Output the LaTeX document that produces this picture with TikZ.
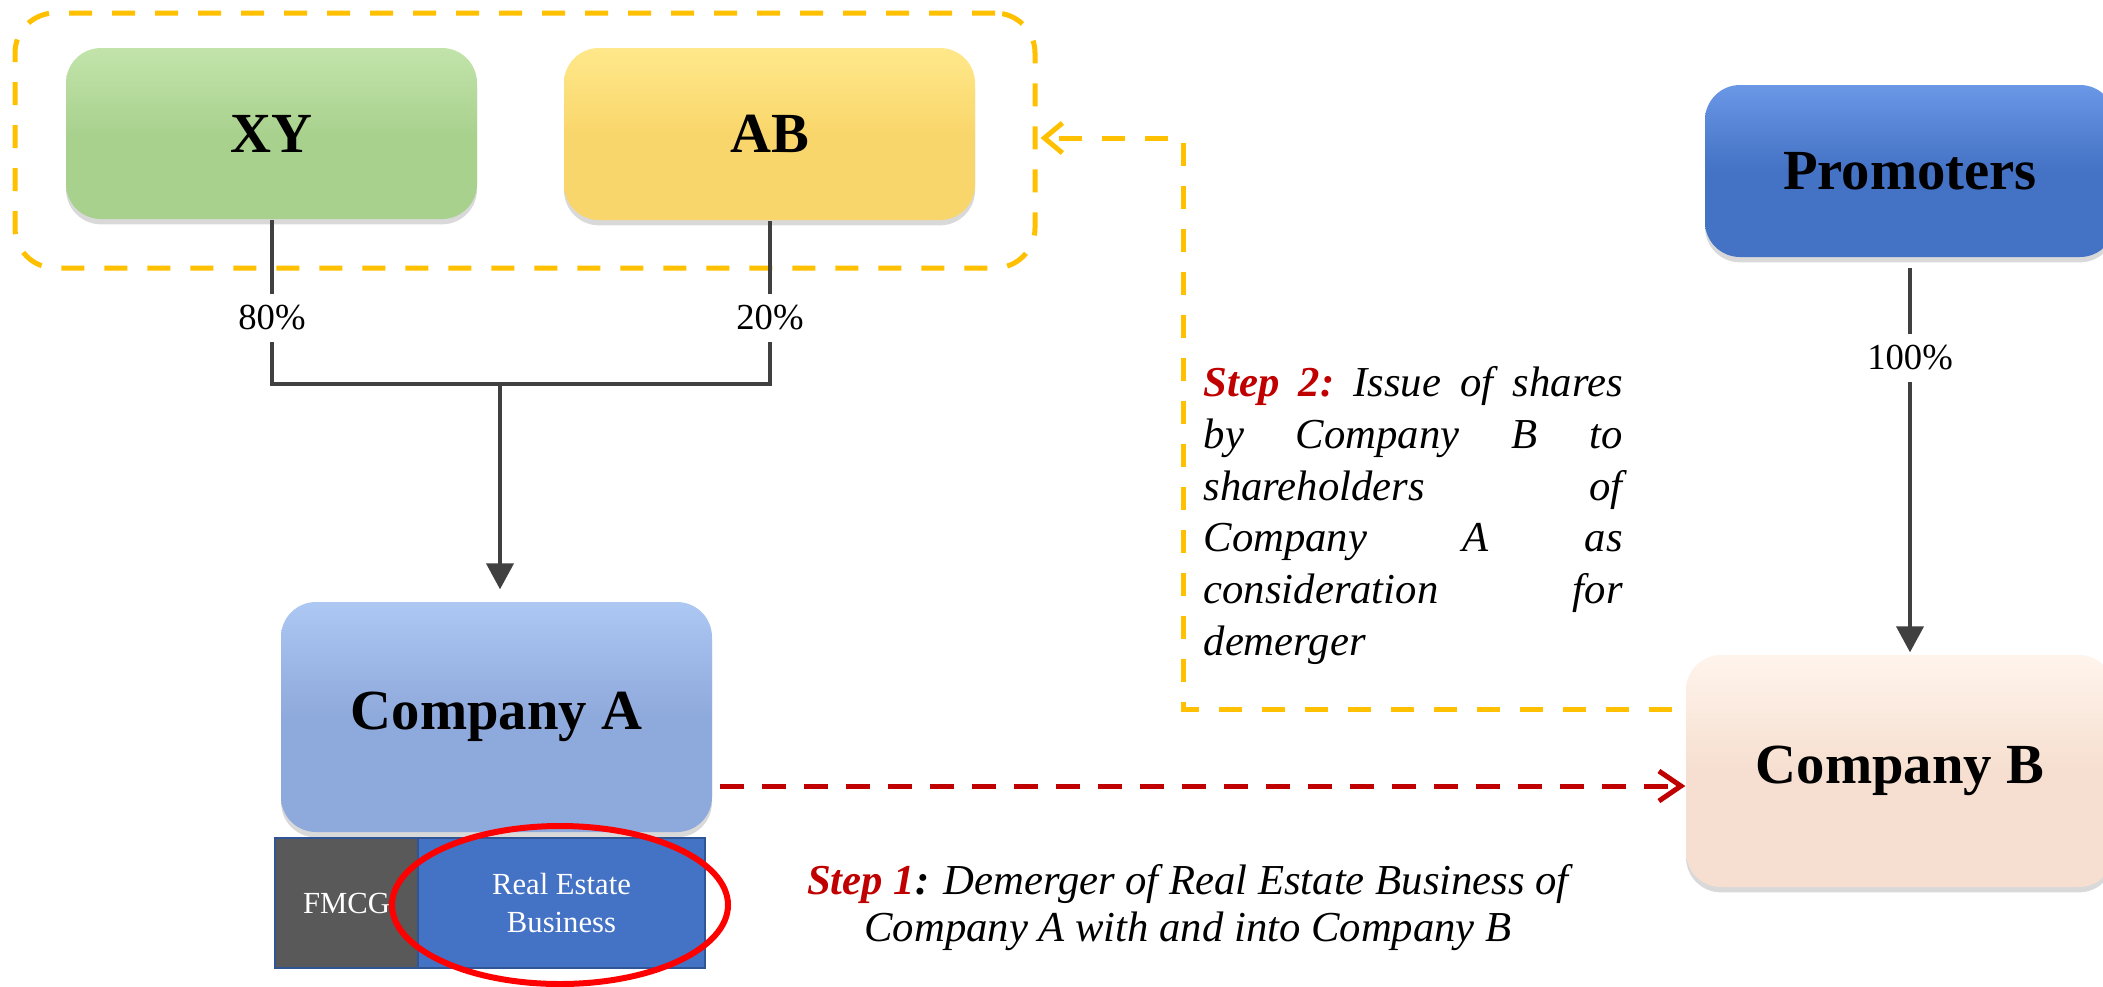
\documentclass[tikz,border=0pt]{standalone}
\usepackage{fontspec}
\setmainfont{Liberation Serif}
\usetikzlibrary{arrows.meta,shapes.geometric,shadows,calc}

% one drawing unit
\newlength\pxu
\setlength\pxu{0.3pt}

\definecolor{grpOrange}{HTML}{FFC000}
\definecolor{stepred}{HTML}{C00000}
\definecolor{linegray}{HTML}{404040}
\definecolor{xyMain}{HTML}{A9D18E}
\definecolor{xyTop}{HTML}{C2E4AB}
\definecolor{abMain}{HTML}{F9D66B}
\definecolor{abTop}{HTML}{FFE88A}
\definecolor{promMain}{HTML}{4472C4}
\definecolor{promTop}{HTML}{6A97E6}
\definecolor{caMain}{HTML}{8EA9DB}
\definecolor{caTop}{HTML}{ADC8F3}
\definecolor{cbMain}{HTML}{F6DFD0}
\definecolor{cbTop}{HTML}{FFF4EC}
\definecolor{fmcgFill}{HTML}{595959}
\definecolor{reFill}{HTML}{4472C4}
\definecolor{segBorder}{HTML}{2F5597}
\definecolor{hlRed}{HTML}{FF0000}

\newcommand\titlefont{\fontsize{17}{20}\selectfont\bfseries}
\newcommand\pctfont{\fontsize{11}{13}\selectfont}
\newcommand\segfont{\fontsize{9.2}{11.4}\selectfont}
\newcommand\stepfont{\fontsize{12.8}{15.5}\selectfont\itshape}
\newcommand\stepfontb{\fontsize{12.8}{14.1}\selectfont\itshape}

\tikzset{
  tile/.style={rounded corners=35\pxu, inner sep=0pt, font=\titlefont,
    drop shadow={opacity=0.3, shadow xshift=0pt, shadow yshift=-1.6pt}},
  tilecol/.style 2 args={top color=#1, bottom color=#2, middle color=#2},
  conn/.style={draw=linegray, line width=4\pxu},
  tri/.style={-{Triangle[length=7.8pt,width=8.1pt]}},
  pct/.style={fill=white, inner xsep=2pt, inner ysep=3.6pt, font=\pctfont},
  seg/.style={draw=segBorder, line width=2.5\pxu, minimum height=130\pxu,
    inner sep=0pt, text=white, font=\segfont, align=center},
  redarrow/.style={draw=stepred, line width=5\pxu, dash pattern=on 24\pxu off 18\pxu,
    -{Straight Barb[length=6.6pt,width=9pt,line width=1.5pt]}},
  orangearrow/.style={draw=grpOrange, line width=5\pxu, dash pattern=on 23\pxu off 20\pxu,
    -{Straight Barb[length=5.4pt,width=9pt,line width=1.5pt]}},
}

\begin{document}
\begin{tikzpicture}[x=0.3pt,y=-0.3pt]
\useasboundingbox (0,0) rectangle (2103,986);
\clip (0,0) rectangle (2103,986);

% shareholders group
\node[draw=grpOrange, line width=5\pxu, dash pattern=on 23\pxu off 20\pxu,
      rounded corners=40\pxu, minimum width=1020\pxu, minimum height=255\pxu]
      (grp) at (525,140.5) {};

\node[tile, tilecol={xyTop}{xyMain}, minimum width=411\pxu, minimum height=171\pxu]
      (xy) at (271.5,133.5) {XY};
\node[tile, tilecol={abTop}{abMain}, minimum width=411\pxu, minimum height=172\pxu]
      (ab) at (769.5,134) {AB};
\node[tile, tilecol={promTop}{promMain}, minimum width=410\pxu, minimum height=172\pxu]
      (prom) at (1910,171) {Promoters};
\node[tile, tilecol={caTop}{caMain}, minimum width=431\pxu, minimum height=230\pxu]
      (compA) at (496.5,717) {Company A};
\node[tile, tilecol={cbTop}{cbMain}, minimum width=428\pxu, minimum height=232\pxu]
      (compB) at (1900,771) {Company B};

% business segments of Company A
\node[seg, fill=fmcgFill, minimum width=143\pxu] (fmcg) at (346.5,903) {FMCG};
\node[seg, fill=reFill, minimum width=287\pxu] (re) at (561.5,903) {Real Estate\\Business};
\node[draw=hlRed, line width=6\pxu, ellipse, minimum width=336\pxu, minimum height=158\pxu,
      inner sep=0pt] (hl) at (560,905) {};

% shareholding lines
\coordinate (jn) at (500,384);
\draw[conn, line join=miter] (xy.south) -- (xy.south |- jn) -- (ab.south |- jn) -- (ab.south);
\draw[conn, tri, shorten >=3.6pt] (jn) -- (jn |- compA.north);
\draw[conn, tri, shorten <=3pt, shorten >=0.6pt] (prom.south) -- (prom.south |- compB.north);
\node[pct] (p80) at (272,318) {80\%};
\node[pct] (p20) at (770,318) {20\%};
\node[pct] (p100) at (1910,358) {100\%};

% step 1: demerger
\coordinate (r1) at (720,786);
\draw[redarrow] (r1) -- (r1 -| compB.west);

% step 2: share issue
\coordinate (o1) at (1686,709);
\coordinate (o2) at (1183,138);
\draw[orangearrow, shorten <=4.2pt, shorten >=0.9pt] (o1) -| (o2) -- (o2 -| grp.east);

\node[anchor=north west, text width=419\pxu, align=justify, inner sep=0pt, font=\stepfont]
  (s2) at (1203,366) {%
  \textcolor{stepred}{\textbf{Step}}\hfill\textcolor{stepred}{\textbf{2:}}\hfill Issue\hfill of\hfill shares\\
  by\hfill Company\hfill B\hfill to\\
  shareholders\hfill of\\
  Company\hfill A\hfill as\\
  consideration\hfill for\\
  demerger};

\node[align=center, inner sep=0pt, font=\stepfontb] (s1) at (1188,908)
  {\textcolor{stepred}{\textbf{Step 1}}\textbf{:} Demerger of Real Estate Business of\\
   Company A with and into Company B};
\end{tikzpicture}
\end{document}
